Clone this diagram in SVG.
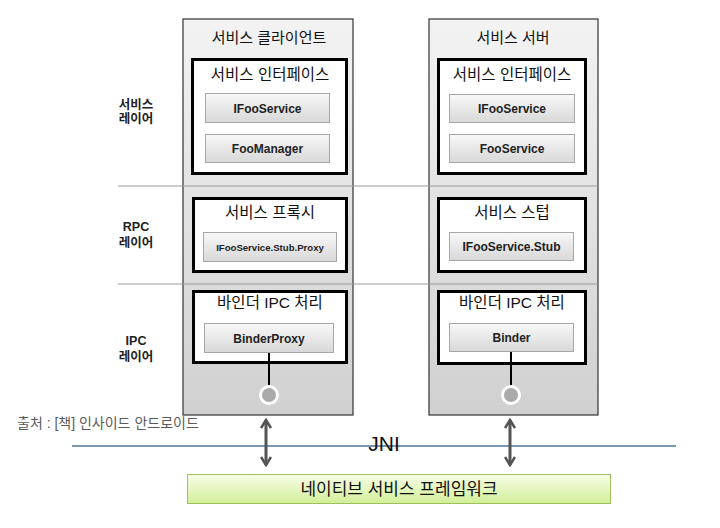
<svg xmlns="http://www.w3.org/2000/svg" width="720" height="528" viewBox="0 0 720 528">
<defs>
<linearGradient id="colGrad" x1="0" y1="0" x2="0" y2="1">
<stop offset="0" stop-color="#f3f3f3"/>
<stop offset="1" stop-color="#d0d0d0"/>
</linearGradient>
<linearGradient id="btnGrad" x1="0" y1="0" x2="0" y2="1">
<stop offset="0" stop-color="#f8f8f8"/>
<stop offset="1" stop-color="#d8d8d8"/>
</linearGradient>
<linearGradient id="greenGrad" x1="0" y1="0" x2="0" y2="1">
<stop offset="0" stop-color="#f7fde6"/>
<stop offset="1" stop-color="#d2ef98"/>
</linearGradient>
<marker id="chev" viewBox="0 0 12 12" refX="10" refY="6" markerWidth="12" markerHeight="12" markerUnits="userSpaceOnUse" orient="auto-start-reverse">
<path d="M2,1 L10,6 L2,11" fill="none" stroke="#555" stroke-width="2.6" stroke-linejoin="miter"/>
</marker>
<style>
.col{fill:url(#colGrad);stroke:#333;stroke-width:1.2}
.box{fill:#fff;stroke:#000;stroke-width:3}
.btn{fill:url(#btnGrad);stroke:#a6a6a6;stroke-width:1}
.kt{font-family:"Liberation Sans","Noto Sans CJK KR",sans-serif;font-size:15.5px;fill:#111;text-anchor:middle}
.ct{font-family:"Liberation Sans","Noto Sans CJK KR",sans-serif;font-size:15px;fill:#111;text-anchor:middle}
.bt{font-family:"Liberation Sans","Noto Sans CJK KR",sans-serif;font-size:12px;font-weight:bold;fill:#222;text-anchor:middle}
.lbl{font-family:"Liberation Sans","Noto Sans CJK KR",sans-serif;font-size:12.5px;font-weight:bold;fill:#222;text-anchor:middle}
.div{stroke:#9a9a9a;stroke-width:1}
.stem{stroke:#000;stroke-width:2}
.port{fill:#aaa;stroke:#fff;stroke-width:3}
.arr{stroke:#555;stroke-width:3;fill:none}
</style>
</defs>

<g id="client">
<rect class="col" x="183" y="19" width="170" height="396"/>
<text class="ct" x="269" y="43">서비스 클라이언트</text>
</g>
<g id="server">
<rect class="col" x="429" y="19" width="169" height="396"/>
<text class="ct" x="513" y="43">서비스 서버</text>
</g>

<g id="layer-dividers">
<line class="div" x1="118" y1="186" x2="598" y2="186"/>
<line class="div" x1="118" y1="284" x2="598" y2="284"/>
</g>

<g id="layer-labels">
<text class="lbl" x="136" y="109">서비스</text>
<text class="lbl" x="136" y="123">레이어</text>
<text class="lbl" x="136" y="231">RPC</text>
<text class="lbl" x="136" y="247">레이어</text>
<text class="lbl" x="136" y="345">IPC</text>
<text class="lbl" x="136" y="361">레이어</text>
</g>

<g id="client-service-interface">
<rect class="box" x="192.5" y="59.5" width="154" height="114"/>
<text class="kt" x="270" y="80">서비스 인터페이스</text>
</g>
<g id="client-ifooservice">
<rect class="btn" x="205.5" y="93.5" width="124" height="29"/>
<text class="bt" x="267.5" y="112.5">IFooService</text>
</g>
<g id="client-foomanager">
<rect class="btn" x="205.5" y="134.5" width="124" height="28"/>
<text class="bt" x="267.5" y="153">FooManager</text>
</g>

<g id="client-proxy">
<rect class="box" x="193.5" y="198.5" width="153" height="73"/>
<text class="kt" x="270" y="218">서비스 프록시</text>
</g>
<g id="client-stub-proxy">
<rect class="btn" x="203.5" y="232.5" width="133" height="29"/>
<text class="bt" x="270" y="250.5" style="font-size:9.6px">IFooService.Stub.Proxy</text>
</g>

<g id="client-binder-ipc">
<rect class="box" x="193.5" y="291.5" width="153" height="71"/>
<text class="kt" x="270" y="308">바인더 IPC 처리</text>
</g>
<g id="client-binderproxy">
<rect class="btn" x="204.5" y="323.5" width="129" height="29"/>
<text class="bt" x="269" y="342.5">BinderProxy</text>
</g>

<g id="server-service-interface">
<rect class="box" x="438.5" y="59.5" width="147" height="114"/>
<text class="kt" x="512" y="80">서비스 인터페이스</text>
</g>
<g id="server-ifooservice">
<rect class="btn" x="449.5" y="94.5" width="125" height="28"/>
<text class="bt" x="512" y="113">IFooService</text>
</g>
<g id="server-fooservice">
<rect class="btn" x="449.5" y="134.5" width="125" height="28"/>
<text class="bt" x="512" y="153">FooService</text>
</g>

<g id="server-stub">
<rect class="box" x="438.5" y="198.5" width="147" height="73"/>
<text class="kt" x="512" y="218">서비스 스텁</text>
</g>
<g id="server-ifooservice-stub">
<rect class="btn" x="449.5" y="232.5" width="124" height="28"/>
<text class="bt" x="511.5" y="251">IFooService.Stub</text>
</g>

<g id="server-binder-ipc">
<rect class="box" x="438.5" y="291.5" width="147" height="72"/>
<text class="kt" x="512" y="308">바인더 IPC 처리</text>
</g>
<g id="server-binder">
<rect class="btn" x="449.5" y="323.5" width="124" height="28"/>
<text class="bt" x="511.5" y="342">Binder</text>
</g>

<g id="jni">
<line x1="72" y1="446" x2="676" y2="446" stroke="#4f7396" stroke-width="1.3"/>
<text x="384" y="451" font-family="Liberation Sans, sans-serif" font-size="21" fill="#111" text-anchor="middle">JNI</text>
</g>

<g id="native-framework">
<rect x="187.5" y="474.5" width="423" height="29" fill="url(#greenGrad)" stroke="#9fbf5f" stroke-width="1"/>
<text x="399" y="495" font-family="Liberation Sans, Noto Sans CJK KR, sans-serif" font-size="17" fill="#111" text-anchor="middle">네이티브 서비스 프레임워크</text>
</g>

<g id="source-note">
<text x="17" y="428" font-family="Liberation Sans, Noto Sans CJK KR, sans-serif" font-size="14" fill="#5a5a5a">출처 : [책] 인사이드 안드로이드</text>
</g>

<g id="connectors">
<line class="stem" x1="269" y1="353" x2="269" y2="386"/>
<circle class="port" cx="269" cy="395" r="8.5"/>
<line class="stem" x1="511" y1="352" x2="511" y2="386"/>
<circle class="port" cx="511" cy="395" r="8.5"/>
<line class="arr" x1="266" y1="420" x2="266" y2="465" marker-start="url(#chev)" marker-end="url(#chev)"/>
<line class="arr" x1="510" y1="420" x2="510" y2="465" marker-start="url(#chev)" marker-end="url(#chev)"/>
</g>
</svg>
